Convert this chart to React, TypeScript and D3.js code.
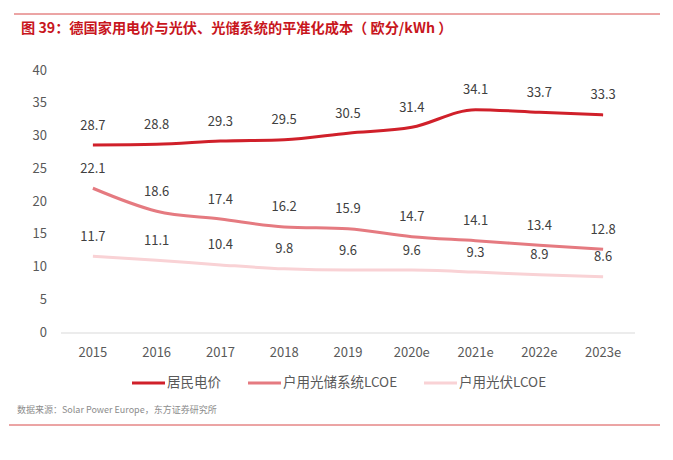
import React, { useEffect, useRef } from 'react';
import * as d3 from 'd3';

const years = ['2015', '2016', '2017', '2018', '2019', '2020e', '2021e', '2022e', '2023e'];
const residentialPrice = [28.7, 28.8, 29.3, 29.5, 30.5, 31.4, 34.1, 33.7, 33.3];
const pvStorageLcoe = [22.1, 18.6, 17.4, 16.2, 15.9, 14.7, 14.1, 13.4, 12.8];
const pvLcoe = [11.7, 11.1, 10.4, 9.8, 9.6, 9.6, 9.3, 8.9, 8.6];
const yTicks = [0, 5, 10, 15, 20, 25, 30, 35, 40];

const seriesNames = ['居民电价', '户用光储系统LCOE', '户用光伏LCOE'];
const seriesColors = ['#D0202A', '#E57A80', '#F9D2D5'];

const App: React.FC = () => {
  const width = 673;
  const height = 460;
  const svgRef = useRef<SVGSVGElement>(null);

  useEffect(() => {
    if (!svgRef.current) return;
    const svg = d3.select(svgRef.current);
    svg.selectAll('*').remove();

    const font = '"Microsoft YaHei", "Noto Sans CJK SC", sans-serif';
    const textColor = '#595959';

    // frame lines + title
    svg.append('line')
      .attr('x1', 14).attr('x2', 660).attr('y1', 14).attr('y2', 14)
      .attr('stroke', '#D84A4A').attr('stroke-width', 1);
    svg.append('text')
      .attr('x', 21).attr('y', 33)
      .text('图 39：德国家用电价与光伏、光储系统的平准化成本（ 欧分/kWh ）')
      .attr('fill', '#C8161D')
      .attr('font-size', 14.2)
      .attr('font-weight', 'bold')
      .attr('font-family', font);

    const x = d3.scaleBand()
      .domain(years)
      .range([61, 635]);

    const y = d3.scaleLinear()
      .domain([0, 40])
      .range([333, 71]);

    // y tick labels
    yTicks.forEach((t) => {
      svg.append('text')
        .attr('x', 47)
        .attr('y', y(t))
        .text(t.toString())
        .attr('text-anchor', 'end')
        .attr('dominant-baseline', 'middle')
        .attr('fill', textColor)
        .attr('font-size', 13)
        .attr('font-family', font);
    });

    // x axis
    svg.append('line')
      .attr('x1', 61).attr('x2', 635)
      .attr('y1', y(0)).attr('y2', y(0))
      .attr('stroke', '#D9D9D9').attr('stroke-width', 1);

    years.forEach((yr) => {
      svg.append('text')
        .attr('x', x(yr)! + x.bandwidth() / 2)
        .attr('y', 353)
        .text(yr)
        .attr('text-anchor', 'middle')
        .attr('dominant-baseline', 'middle')
        .attr('fill', textColor)
        .attr('font-size', 13)
        .attr('font-family', font);
    });

    const allSeries = [residentialPrice, pvStorageLcoe, pvLcoe];

    const line = d3.line<number>()
      .x((_, i) => x(years[i])! + x.bandwidth() / 2)
      .y((d) => y(d))
      .curve(d3.curveMonotoneX);

    allSeries.forEach((s, si) => {
      svg.append('path')
        .datum(s)
        .attr('d', line)
        .attr('fill', 'none')
        .attr('stroke', seriesColors[si])
        .attr('stroke-width', 3);

      s.forEach((v, i) => {
        svg.append('text')
          .attr('x', x(years[i])! + x.bandwidth() / 2)
          .attr('y', y(v) - 19)
          .text(v.toFixed(1))
          .attr('text-anchor', 'middle')
          .attr('dominant-baseline', 'middle')
          .attr('fill', '#404040')
          .attr('font-size', 13)
          .attr('font-family', font);
      });
    });

    // legend
    const legendX = [132, 248, 424];
    seriesNames.forEach((name, i) => {
      svg.append('line')
        .attr('x1', legendX[i]).attr('x2', legendX[i] + 33)
        .attr('y1', 383).attr('y2', 383)
        .attr('stroke', seriesColors[i]).attr('stroke-width', 3);
      svg.append('text')
        .attr('x', legendX[i] + 35)
        .attr('y', 383)
        .text(name)
        .attr('dominant-baseline', 'middle')
        .attr('fill', textColor)
        .attr('font-size', 13.5)
        .attr('font-family', font);
    });

    // source + bottom line
    svg.append('text')
      .attr('x', 17).attr('y', 411)
      .text('数据来源：Solar Power Europe，东方证券研究所')
      .attr('dominant-baseline', 'middle')
      .attr('fill', '#8C8C8C')
      .attr('font-size', 9)
      .attr('font-family', font);
    svg.append('line')
      .attr('x1', 9).attr('x2', 660).attr('y1', 425).attr('y2', 425)
      .attr('stroke', '#D84A4A').attr('stroke-width', 1);
  }, []);

  return (
    <svg
      ref={svgRef}
      width={width}
      height={height}
      style={{ position: 'absolute', left: 0, top: 0, background: '#fff' }}
    />
  );
};

export default App;
